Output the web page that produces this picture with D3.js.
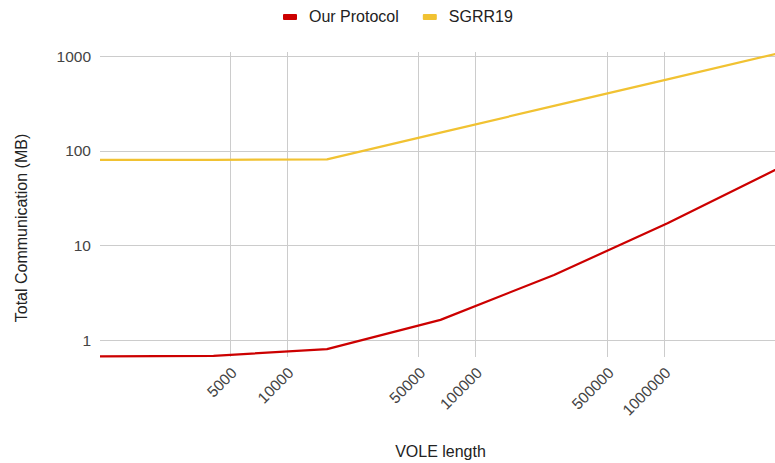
<!DOCTYPE html>
<html>
<head>
<meta charset="utf-8">
<script src="https://cdn.jsdelivr.net/npm/d3@7"></script>
<style>
  body { margin: 0; background: #fff; }
  text { font-family: "Liberation Sans", Arial, sans-serif; }
</style>
</head>
<body>
<div id="chart"></div>
<script>
// Data
const voleLength = [1024, 4096, 16384, 65536, 262144, 1048576, 4194304];
const ourProtocol = [0.67, 0.68, 0.80, 1.63, 4.86, 17.1, 67];
const sgrr19 = [80, 80, 81, 155, 297, 567, 1086];
const seriesNames = ['Our Protocol', 'SGRR19'];
const seriesColors = ['#cc0000', '#f1c232'];
const xTicks = [5000, 10000, 50000, 100000, 500000, 1000000];
const yTicks = [1, 10, 100, 1000];

// Dimensions
const width = 775;
const height = 463;
const plotLeft = 100, plotRight = 781, plotTop = 52, plotBottom = 357;

const svg = d3.select('#chart')
    .append('svg')
    .attr('width', width)
    .attr('height', height);

// Scales
const x = d3.scaleLog().domain([1024, 4194304]).range([plotLeft, plotRight]);
const y = d3.scaleLog().domain([0.661, 1102]).range([plotBottom, plotTop]);

// Horizontal gridlines + labels
svg.append('g').selectAll('line')
    .data(yTicks)
    .enter().append('line')
    .attr('x1', plotLeft).attr('x2', width)
    .attr('y1', d => Math.round(y(d)) + 0.5)
    .attr('y2', d => Math.round(y(d)) + 0.5)
    .attr('stroke', '#cccccc');

svg.append('g').selectAll('text')
    .data(yTicks)
    .enter().append('text')
    .attr('x', 91)
    .attr('y', d => y(d))
    .attr('dy', '0.36em')
    .attr('text-anchor', 'end')
    .style('font-size', '15.5px')
    .attr('fill', '#444')
    .text(d => d);

// Vertical gridlines + rotated labels
svg.append('g').selectAll('line')
    .data(xTicks)
    .enter().append('line')
    .attr('x1', d => Math.round(x(d)) + 0.5)
    .attr('x2', d => Math.round(x(d)) + 0.5)
    .attr('y1', plotTop).attr('y2', plotBottom)
    .attr('stroke', '#cccccc');

svg.append('g').selectAll('text')
    .data(xTicks)
    .enter().append('text')
    .attr('transform', d => `translate(${x(d) + 4},${370}) rotate(-45)`)
    .attr('dy', '0.36em')
    .attr('text-anchor', 'end')
    .style('font-size', '15.5px')
    .attr('fill', '#444')
    .text(d => d);

// Lines
const line = d3.line()
    .x(d => x(d[0]))
    .y(d => y(d[1]));

[ourProtocol, sgrr19].forEach((vals, i) => {
    svg.append('path')
        .datum(voleLength.map((v, j) => [v, vals[j]]))
        .attr('d', line)
        .attr('fill', 'none')
        .attr('stroke', seriesColors[i])
        .attr('stroke-width', 2.2)
        .attr('stroke-linejoin', 'round');
});

// Axis titles
svg.append('text')
    .attr('x', (plotLeft + plotRight) / 2)
    .attr('y', 457)
    .attr('text-anchor', 'middle')
    .style('font-size', '16px')
    .attr('fill', '#222')
    .text('VOLE length');

svg.append('text')
    .attr('transform', 'translate(27,228) rotate(-90)')
    .attr('text-anchor', 'middle')
    .style('font-size', '16px')
    .attr('fill', '#222')
    .text('Total Communication (MB)');

// Legend
let lx = 283;
seriesNames.forEach((name, i) => {
    svg.append('rect')
        .attr('x', lx).attr('y', 14)
        .attr('width', 14).attr('height', 6)
        .attr('rx', 1)
        .attr('fill', seriesColors[i]);
    const t = svg.append('text')
        .attr('x', lx + 26).attr('y', 22)
        .style('font-size', '16px')
        .attr('fill', '#222')
        .text(name);
    lx += 26 + t.node().getComputedTextLength() + 24;
});
</script>
</body>
</html>
